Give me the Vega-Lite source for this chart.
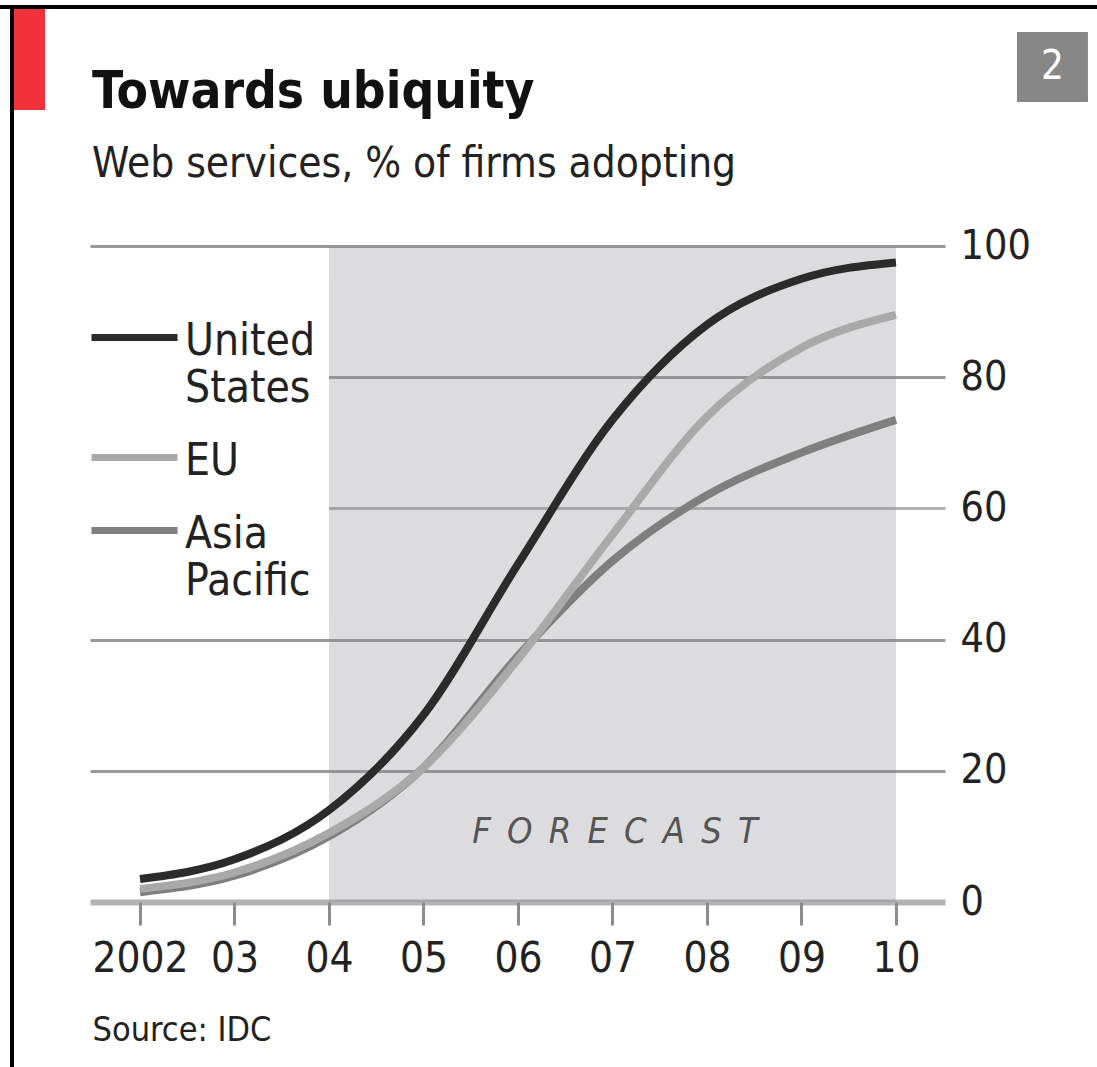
{
  "$schema": "https://vega.github.io/schema/vega-lite/v6.json",
  "autosize": {"type": "none"},
  "width": 855,
  "height": 656,
  "padding": {"left": 90, "top": 246, "right": 152, "bottom": 165},
  "background": "white",
  "config": {"view": {"stroke": null}, "font": "DejaVu Sans Condensed"},
  "layer": [
    {
      "data": {"values": [{"start": 2004, "end": 2010}]},
      "mark": {"type": "rect", "fill": "#8a8c93", "opacity": 0.3},
      "encoding": {
        "x": {"field": "start", "type": "quantitative"},
        "x2": {"field": "end"},
        "y": {"datum": 0},
        "y2": {"datum": 100}
      }
    },
    {
      "data": {
        "values": [
          {"year": 2002, "series": "United States", "value": 3.5},
          {"year": 2003, "series": "United States", "value": 6.5},
          {"year": 2004, "series": "United States", "value": 14},
          {"year": 2005, "series": "United States", "value": 28.5},
          {"year": 2006, "series": "United States", "value": 51.5},
          {"year": 2007, "series": "United States", "value": 73.5},
          {"year": 2008, "series": "United States", "value": 88},
          {"year": 2009, "series": "United States", "value": 95},
          {"year": 2010, "series": "United States", "value": 97.5},
          {"year": 2002, "series": "Asia Pacific", "value": 1.5},
          {"year": 2003, "series": "Asia Pacific", "value": 4},
          {"year": 2004, "series": "Asia Pacific", "value": 10},
          {"year": 2005, "series": "Asia Pacific", "value": 20.5},
          {"year": 2006, "series": "Asia Pacific", "value": 37.5},
          {"year": 2007, "series": "Asia Pacific", "value": 52},
          {"year": 2008, "series": "Asia Pacific", "value": 62},
          {"year": 2009, "series": "Asia Pacific", "value": 68.5},
          {"year": 2010, "series": "Asia Pacific", "value": 73.5},
          {"year": 2002, "series": "EU", "value": 2},
          {"year": 2003, "series": "EU", "value": 4.5},
          {"year": 2004, "series": "EU", "value": 10.5},
          {"year": 2005, "series": "EU", "value": 20.5},
          {"year": 2006, "series": "EU", "value": 37},
          {"year": 2007, "series": "EU", "value": 56},
          {"year": 2008, "series": "EU", "value": 74},
          {"year": 2009, "series": "EU", "value": 84.5},
          {"year": 2010, "series": "EU", "value": 89.5}
        ]
      },
      "mark": {"type": "line", "strokeWidth": 8, "interpolate": "monotone", "strokeCap": "butt"},
      "encoding": {
        "x": {
          "field": "year",
          "type": "quantitative",
          "scale": {"domain": [2001.471, 2010.519], "nice": false, "zero": false},
          "axis": {
            "values": [2002, 2003, 2004, 2005, 2006, 2007, 2008, 2009, 2010],
            "labelExpr": "datum.value == 2002 ? '2002' : substring(toString(datum.value), 2, 4)",
            "labelFont": "DejaVu Sans Condensed",
            "labelFontSize": 42,
            "labelColor": "#222222",
            "labelPadding": 13,
            "labelBaseline": "top",
            "labelFlush": false,
            "labelOverlap": false,
            "ticks": true,
            "tickSize": 23,
            "tickWidth": 3,
            "tickColor": "#8c8c8c",
            "domain": false,
            "grid": false,
            "title": "Source: IDC",
            "titleFont": "DejaVu Sans Condensed",
            "titleFontSize": 34,
            "titleFontWeight": "normal",
            "titleColor": "#222222",
            "titleAlign": "left",
            "titleBaseline": "alphabetic",
            "titleAnchor": "start",
            "titleX": 2,
            "titleY": 138
          }
        },
        "y": {
          "field": "value",
          "type": "quantitative",
          "scale": {"domain": [0, 100], "nice": false},
          "axis": {
            "orient": "right",
            "values": [0, 20, 40, 60, 80, 100],
            "labelFont": "DejaVu Sans Condensed",
            "labelFontSize": 41,
            "labelColor": "#222222",
            "labelPadding": 15,
            "labelAlign": "left",
            "labelBaseline": "middle",
            "labelOverlap": false,
            "labelFlush": false,
            "ticks": false,
            "domain": false,
            "grid": true,
            "gridColor": {"condition": {"test": "datum.value === 0 || datum.value === 60", "value": "#b3b3b3"}, "value": "#999999"},
            "gridWidth": {"condition": {"test": "datum.value === 0", "value": 6}, "value": 3},
            "gridOpacity": 1,
            "title": null
          }
        },
        "color": {
          "field": "series",
          "type": "nominal",
          "scale": {"domain": ["United States", "EU", "Asia Pacific"], "range": ["#2b2b2b", "#a9a9a9", "#7f7f7f"]},
          "legend": {
            "orient": "none",
            "legendX": -15,
            "legendY": 32,
            "title": null,
            "padding": 13,
            "fillColor": "#ffffff",
            "strokeColor": null,
            "symbolType": "stroke",
            "symbolSize": 7396,
            "symbolStrokeWidth": 7,
            "symbolOpacity": 1,
            "labelFont": "DejaVu Sans Condensed",
            "labelFontSize": 44,
            "labelColor": "#222222",
            "labelOffset": 4,
            "labelLimit": 400,
            "labelBaseline": "alphabetic",
            "rowPadding": -5,
            "labelExpr": "datum.label == 'United States' ? ['United', 'States'] : datum.label == 'Asia Pacific' ? ['Asia', 'Pacific'] : datum.label",
            "encode": {"labels": {"update": {"dy": {"value": 17}, "lineHeight": {"value": 47}}}}
          }
        }
      }
    },
    {
      "data": {"values": [{}]},
      "mark": {"type": "text", "text": "F\u2002O\u2002R\u2002E\u2002C\u2002A\u2002S\u2002T", "font": "DejaVu Sans Condensed", "fontSize": 36, "fontStyle": "italic", "color": "#555555", "align": "center", "baseline": "middle"},
      "encoding": {"x": {"datum": 2007.0265}, "y": {"datum": 10.67}}
    },
    {
      "data": {"values": [{}]},
      "mark": {"type": "text", "text": "Towards ubiquity", "font": "DejaVu Sans Condensed", "fontSize": 51, "fontWeight": "bold", "color": "#111111", "align": "left", "baseline": "alphabetic"},
      "encoding": {"x": {"datum": 2001.4921}, "y": {"datum": 121.04}}
    },
    {
      "data": {"values": [{}]},
      "mark": {"type": "text", "text": "Web services, % of firms adopting", "font": "DejaVu Sans Condensed", "fontSize": 42, "color": "#222222", "align": "left", "baseline": "alphabetic"},
      "encoding": {"x": {"datum": 2001.4921}, "y": {"datum": 110.52}}
    },
    {
      "data": {"values": [{}]},
      "mark": {"type": "rect", "fill": "#f0323a"},
      "encoding": {
        "x": {"datum": 2000.6667}, "x2": {"datum": 2000.9947},
        "y": {"datum": 136.13}, "y2": {"datum": 120.73}
      }
    },
    {
      "data": {"values": [{}]},
      "mark": {"type": "rect", "fill": "#878787"},
      "encoding": {
        "x": {"datum": 2011.2804}, "x2": {"datum": 2012.0317},
        "y": {"datum": 132.62}, "y2": {"datum": 121.95}
      }
    },
    {
      "data": {"values": [{}]},
      "mark": {"type": "text", "text": "2", "font": "DejaVu Sans Condensed", "fontSize": 40, "color": "#ffffff", "align": "center", "baseline": "middle"},
      "encoding": {"x": {"datum": 2011.6561}, "y": {"datum": 127.29}}
    },
    {
      "data": {"values": [{}]},
      "mark": {"type": "rule", "color": "#000000", "strokeWidth": 4},
      "encoding": {
        "x": {"datum": 2000.6455},
        "y": {"datum": 136.74}, "y2": {"datum": -30}
      }
    },
    {
      "data": {"values": [{}]},
      "mark": {"type": "rule", "color": "#000000", "strokeWidth": 4},
      "encoding": {
        "x": {"datum": 2000.4}, "x2": {"datum": 2012.3},
        "y": {"datum": 136.43}
      }
    }
  ]
}
